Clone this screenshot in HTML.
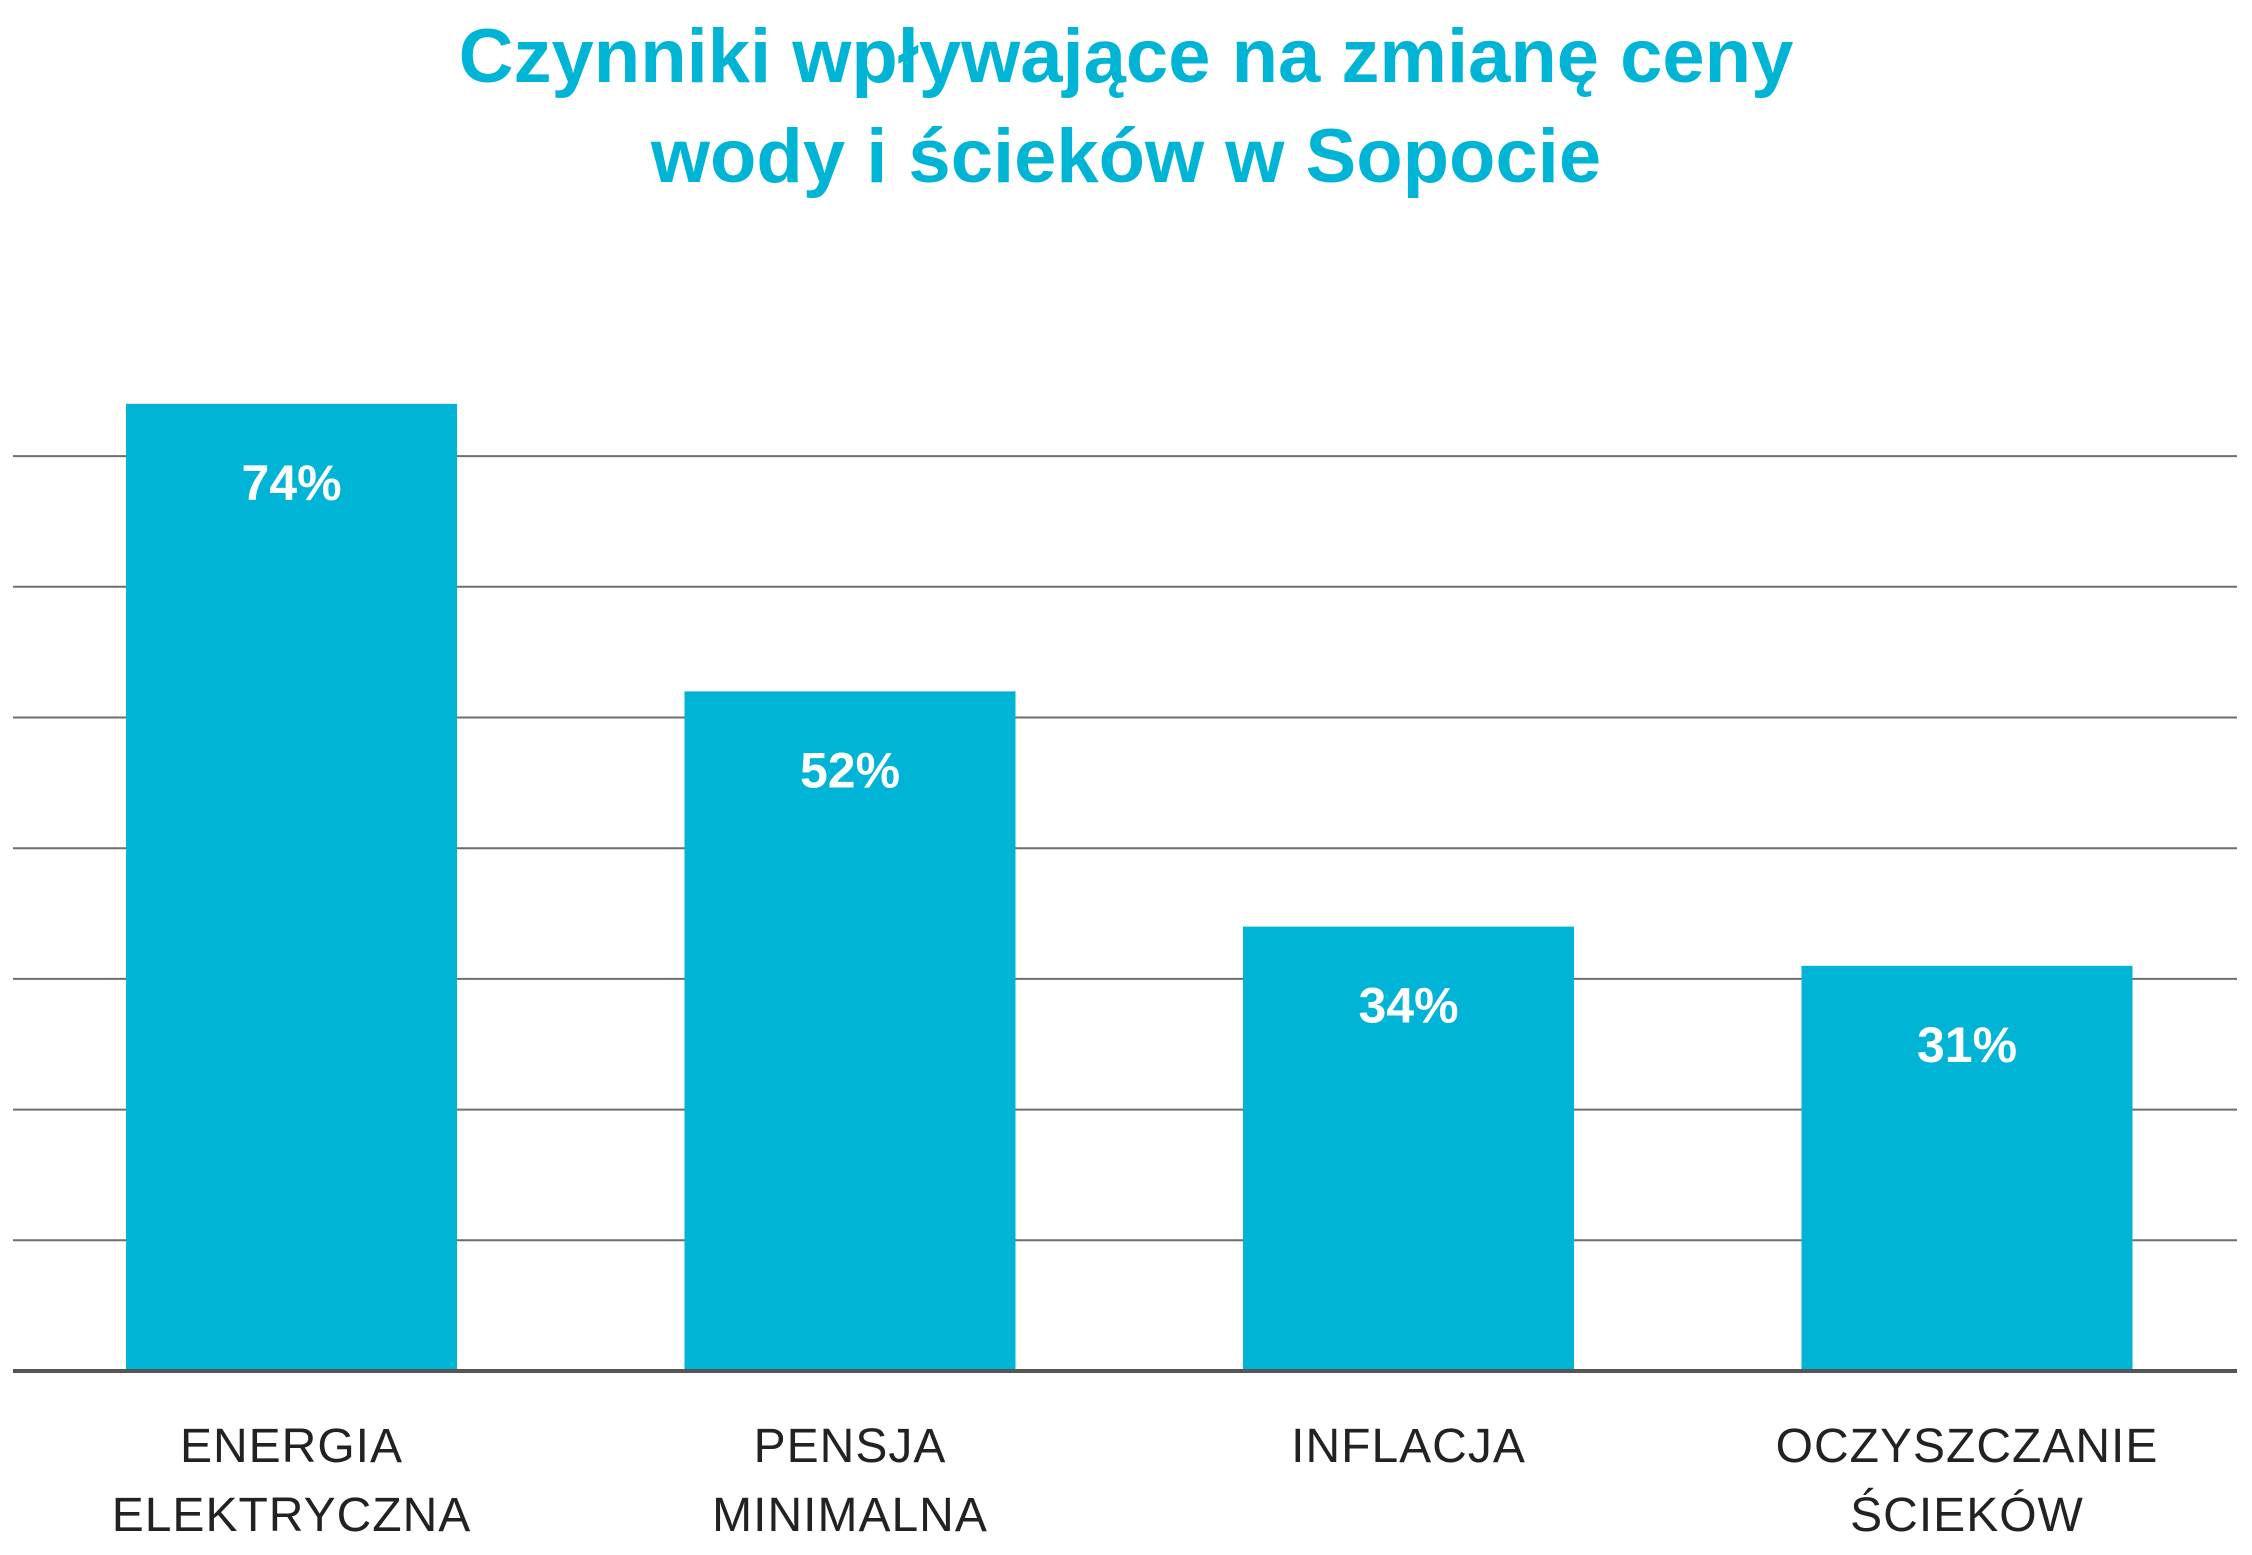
<!DOCTYPE html>
<html><head><meta charset="utf-8">
<style>
html,body{margin:0;padding:0;background:#fff;}
svg{display:block;}
</style></head>
<body>
<svg id="chart" width="2252" height="1555" viewBox="0 0 2252 1555" xmlns="http://www.w3.org/2000/svg">
<text x="1126" y="82" text-anchor="middle" font-family="Liberation Sans, sans-serif" font-weight="bold" font-size="76" fill="#00b4d6">Czynniki wpływające na zmianę ceny</text>
<text x="1126" y="182" text-anchor="middle" font-family="Liberation Sans, sans-serif" font-weight="bold" font-size="76" fill="#00b4d6">wody i ścieków w Sopocie</text>
<g id="grid"></g>
<g id="bars"></g>
<g id="labels"></g>
</svg>
<script>
const categories = [["ENERGIA","ELEKTRYCZNA"],["PENSJA","MINIMALNA"],["INFLACJA"],["OCZYSZCZANIE","ŚCIEKÓW"]];
const values = [74, 52, 34, 31];
const gridTicks = [10, 20, 30, 40, 50, 60, 70];

const NS = "http://www.w3.org/2000/svg";
const x0 = 13, x1 = 2237, base = 1371, perUnit = 13.07;
const y = v => base - v * perUnit;
const barW = 331, firstX = 126, step = 558.5;
const bx = i => firstX + i * step;

const grid = document.getElementById('grid');
gridTicks.forEach(t => {
  const l = document.createElementNS(NS, 'line');
  
  
  l.setAttribute('x1', x0); l.setAttribute('x2', x1);
  l.setAttribute('y1', y(t)); l.setAttribute('y2', y(t));
  l.setAttribute('stroke', '#6e6e6e'); l.setAttribute('stroke-width', '2');
  grid.appendChild(l);
});

const bars = document.getElementById('bars');
values.forEach((v, i) => {
  const r = document.createElementNS(NS, 'rect');
  
  
  r.setAttribute('x', bx(i)); r.setAttribute('width', barW);
  r.setAttribute('y', y(v)); r.setAttribute('height', base - y(v));
  r.setAttribute('fill', '#00b4d6');
  bars.appendChild(r);
  const t = document.createElementNS(NS, 'text');
  
  
  t.setAttribute('x', bx(i) + barW / 2); t.setAttribute('y', y(v) + 96);
  t.setAttribute('text-anchor', 'middle');
  t.setAttribute('font-family', 'Liberation Sans, sans-serif');
  t.setAttribute('font-weight', 'bold'); t.setAttribute('font-size', '50');
  t.setAttribute('fill', '#ffffff');
  t.textContent = v + '%';
  bars.appendChild(t);
});

const axis = document.createElementNS(NS, 'line');


axis.setAttribute('x1', x0); axis.setAttribute('x2', x1);
axis.setAttribute('y1', base); axis.setAttribute('y2', base);
axis.setAttribute('stroke', '#555'); axis.setAttribute('stroke-width', '4');
document.getElementById('chart').appendChild(axis);

const labels = document.getElementById('labels');
categories.forEach((lines, i) => {
  lines.forEach((s, j) => {
    const t = document.createElementNS(NS, 'text');
    
    
    t.setAttribute('x', bx(i) + barW / 2); t.setAttribute('y', 1462 + j * 69);
    t.setAttribute('text-anchor', 'middle');
    t.setAttribute('font-family', 'Liberation Sans, sans-serif');
    t.setAttribute('font-size', '48'); t.setAttribute('fill', '#222');
    t.setAttribute('letter-spacing', '1');
    t.textContent = s;
    labels.appendChild(t);
  });
});
</script>
</body></html>
